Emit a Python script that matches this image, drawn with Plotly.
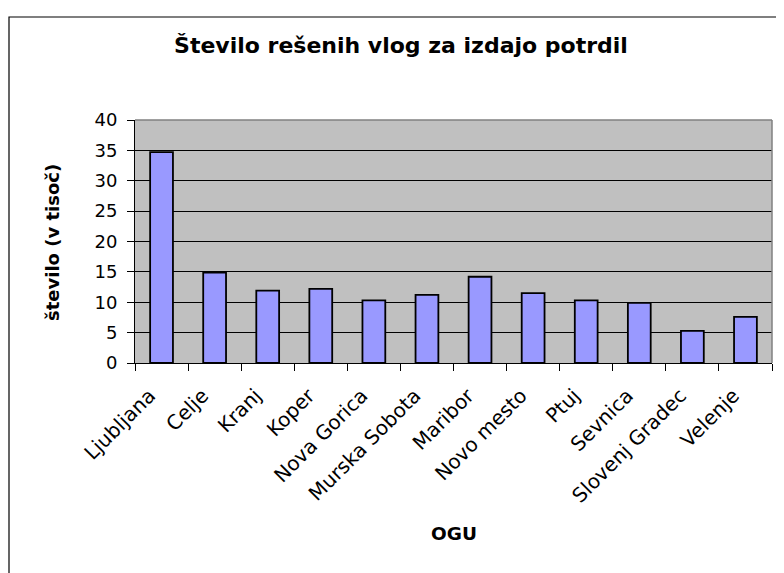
import plotly.graph_objects as go

categories = ["Ljubljana", "Celje", "Kranj", "Koper", "Nova Gorica", "Murska Sobota",
              "Maribor", "Novo mesto", "Ptuj", "Sevnica", "Slovenj Gradec", "Velenje"]
values = [34.7, 14.9, 11.9, 12.2, 10.3, 11.2, 14.2, 11.5, 10.3, 9.9, 5.3, 7.6]
y_ticks = [0, 5, 10, 15, 20, 25, 30, 35, 40]

title_text = "Število rešenih vlog za izdajo potrdil"
y_title = "število (v tisoč)"
x_title = "OGU"

FONT = "DejaVu Sans, Arial, sans-serif"

fig = go.Figure(go.Bar(
    x=categories, y=values,
    marker=dict(color="#9999FF", line=dict(color="black", width=1.8)),
))

# page is rendered with an 8px body offset
W, H = 784, 573
L, R, T, B = 127, 20, 112, 218
pw = W - L - R
ph = H - T - B

def px_x(x):
    return (x - L) / pw

def px_y(y):
    return (H - B - y) / ph

fig.update_layout(
    width=W, height=H,
    margin=dict(l=L, r=R, t=T, b=B),
    paper_bgcolor="white",
    plot_bgcolor="#C0C0C0",
    bargap=0.57,
    showlegend=False,
    font=dict(family=FONT, color="black"),
    title=dict(text="<b>" + title_text + "</b>", x=393 / W, y=1 - 37.5 / H,
               xanchor="center", yanchor="middle",
               font=dict(size=22, family=FONT, color="black")),
    xaxis=dict(
        type="category",
        tickangle=-45,
        tickfont=dict(size=20, family=FONT, color="black"),
        ticks="outside", tickson="boundaries", ticklen=7, tickcolor="black",
        ticklabelstandoff=12, ticklabelshift=-12,
        showline=True, linecolor="black", linewidth=1,
        showgrid=False,
    ),
    yaxis=dict(
        range=[0, 40],
        tickvals=y_ticks,
        tickfont=dict(size=18, family=FONT, color="black"),
        ticks="outside", ticklen=7, tickcolor="black",
        ticklabelstandoff=6,
        showline=True, linecolor="black", linewidth=1,
        showgrid=True, gridcolor="black", gridwidth=1,
        zeroline=False,
    ),
    annotations=[
        dict(text="<b>" + y_title + "</b>", x=px_x(44), y=px_y(235),
             xref="paper", yref="paper", textangle=-90, showarrow=False,
             xanchor="center", yanchor="middle",
             font=dict(size=18, family=FONT, color="black")),
        dict(text="<b>" + x_title + "</b>", x=px_x(446), y=px_y(525),
             xref="paper", yref="paper", showarrow=False,
             xanchor="center", yanchor="middle",
             font=dict(size=18.5, family=FONT, color="black")),
    ],
    shapes=[
        # outer chart frame
        dict(type="rect", xref="paper", yref="paper",
             x0=px_x(1), x1=px_x(800), y0=px_y(600), y1=px_y(9),
             line=dict(color="black", width=1.2), layer="below"),
        # plot-area top and right borders (gray)
        dict(type="line", xref="paper", yref="paper", x0=0, x1=1, y0=1, y1=1,
             line=dict(color="#808080", width=1.5)),
        dict(type="line", xref="paper", yref="paper", x0=1, x1=1, y0=0, y1=1,
             line=dict(color="#808080", width=1.5)),
    ],
)

fig.write_html("out.html")
